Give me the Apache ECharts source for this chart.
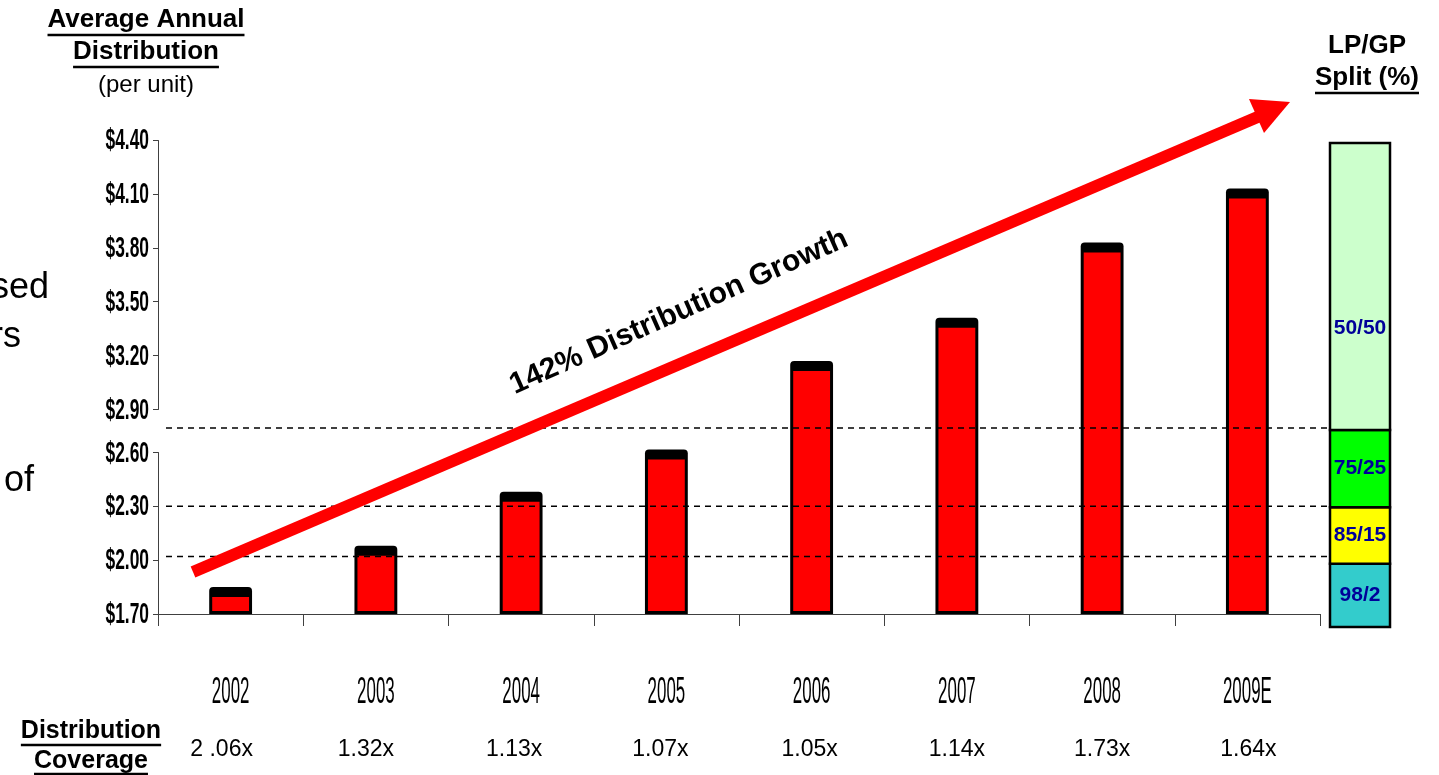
<!DOCTYPE html>
<html><head><meta charset="utf-8">
<script src="https://cdn.jsdelivr.net/npm/echarts@6/dist/echarts.min.js"></script>
<style>html,body{margin:0;padding:0;background:#fff;overflow:hidden}#c{width:1439px;height:775px}</style>
</head><body><div id="c"></div>
<script>
// ---- data ----
const years = ['2002', '2003', '2004', '2005', '2006', '2007', '2008', '2009E'];
const distribution = [1.85, 2.08, 2.38, 2.62, 3.17, 3.41, 3.83, 4.13];
const coverage = ['2 .06x', '1.32x', '1.13x', '1.07x', '1.05x', '1.14x', '1.73x', '1.64x'];
const yTicks = [1.70, 2.00, 2.30, 2.60, 2.90, 3.20, 3.50, 3.80, 4.10, 4.40];
const yBreak = [2.60, 2.90];
const thresholds = [2.02, 2.30, 2.77];
const splitLabels = ['98/2', '85/15', '75/25', '50/50'];
const splitBounds = [1.63, 1.99, 2.31, 2.75, 4.38];
const growthText = '142% Distribution Growth';

// ---- styles ----
const splitColors = ['#33CCCC', '#FFFF00', '#00FF00', '#CCFFCC'];
const coverageShift = [-9, -10, -7, -6, -2, 0, 0, 1];
const FF = '"Liberation Sans", Arial, Helvetica, sans-serif';
const AXIS = '#404040';

const chart = echarts.init(document.getElementById('c'), null, {renderer: 'canvas'});

function renderBar(params, api) {
  const cat = api.value(0), v = api.value(1);
  const top = api.coord([cat, v]);
  const base = api.coord([cat, yTicks[0]]);
  const w = api.size([1, 0])[0] * 0.295;
  const x0 = top[0] - w / 2, h = base[1] - top[1];
  return {type: 'group', children: [
    {type: 'rect', shape: {x: x0, y: top[1], width: w, height: h, r: [4, 4, 0, 0]}, style: {fill: '#000'}},
    {type: 'rect', shape: {x: x0 + 3, y: top[1] + 10, width: w - 6, height: h - 13}, style: {fill: '#FF0000'}}
  ]};
}
function renderDash(params, api) {
  const y = api.coord([0, api.value(1)])[1];
  const cs = params.coordSys;
  return {type: 'line', shape: {x1: cs.x + 8, y1: y, x2: cs.x + cs.width + 10, y2: y},
    style: {stroke: '#000', lineWidth: 1.5, lineDash: [6, 5]}};
}
function renderSplit(params, api) {
  const lo = api.coord([0, api.value(1)]);
  const hi = api.coord([0, api.value(2)]);
  const cs = params.coordSys;
  const i = params.dataIndex;
  const ty = lo[1] - Math.min((lo[1] - hi[1]) / 2, 102);
  return {type: 'group', children: [
    {type: 'rect', shape: {x: cs.x, y: hi[1], width: cs.width, height: lo[1] - hi[1]},
      style: {fill: splitColors[i], stroke: '#000', lineWidth: 2.5}},
    {type: 'text', x: cs.x + cs.width / 2, y: ty,
      style: {text: splitLabels[i], fill: '#000099', font: 'bold 21px ' + FF,
        align: 'center', verticalAlign: 'middle', textAlign: 'center', textVerticalAlign: 'middle'}}
  ]};
}

chart.setOption({
  animation: false,
  grid: [
    {left: 158, right: 119, top: 140, bottom: 161},
    {left: 1330, right: 49, top: 143, bottom: 148}
  ],
  xAxis: [
    {type: 'category', gridIndex: 0, data: years, boundaryGap: true,
      axisLine: {lineStyle: {color: AXIS, width: 1}},
      axisTick: {show: true, interval: 0, length: 12, lineStyle: {color: AXIS}},
      axisLabel: {show: false}, splitLine: {show: false}},
    {type: 'category', gridIndex: 1, data: ['LP/GP'], show: false}
  ],
  yAxis: [
    {type: 'value', gridIndex: 0, min: yTicks[0], max: yTicks[yTicks.length - 1], interval: 0.3,
      breaks: [{start: yBreak[0], end: yBreak[1], gap: 0.239}],
      breakArea: {show: false},
      axisLine: {show: true, lineStyle: {color: AXIS, width: 1}},
      axisTick: {show: true, length: 5, lineStyle: {color: AXIS}},
      axisLabel: {show: false}, splitLine: {show: false}},
    {type: 'value', gridIndex: 1, min: splitBounds[0], max: splitBounds[splitBounds.length - 1], show: false}
  ],
  series: [
    {type: 'custom', xAxisIndex: 0, yAxisIndex: 0, renderItem: renderBar, z: 3,
      data: distribution.map((v, i) => [i, v])},
    {type: 'custom', xAxisIndex: 0, yAxisIndex: 0, renderItem: renderDash, z: 4, clip: false,
      data: thresholds.map(v => [0, v])},
    {type: 'custom', xAxisIndex: 1, yAxisIndex: 1, renderItem: renderSplit, z: 3, clip: false,
      data: splitLabels.map((l, i) => [0, splitBounds[i], splitBounds[i + 1]])}
  ]
});

// ---- text & annotations ----
const ctx = document.createElement('canvas').getContext('2d');
function tw(text, font) { ctx.font = font; return ctx.measureText(text).width; }
const g = [];
function txt(text, x, y, font, opts) {
  opts = opts || {};
  const align = opts.align || 'center';
  g.push({type: 'text', x: x, y: y, scaleX: opts.scaleX || 1, rotation: opts.rotation || 0, z: 10,
    style: {text: text, font: font, fill: opts.fill || '#000', align: align, verticalAlign: 'middle',
      textAlign: align, textVerticalAlign: 'middle'}});
}
function uline(text, cx, y, font) {
  const w = tw(text, font);
  g.push({type: 'line', z: 10, shape: {x1: cx - w / 2, y1: y, x2: cx + w / 2, y2: y}, style: {stroke: '#000', lineWidth: 2.5}});
}

// y tick labels (condensed look)
yTicks.forEach(v => {
  const y = chart.convertToPixel({yAxisIndex: 0}, v);
  txt('$' + v.toFixed(2), 149, y + 1, 'bold 30px ' + FF, {align: 'right', scaleX: 0.58});
});
// year labels & coverage
years.forEach((yr, i) => {
  const x = chart.convertToPixel({xAxisIndex: 0}, yr);
  txt(yr, x, 693, '36px ' + FF, {scaleX: 0.47});
  txt(coverage[i], x + coverageShift[i], 750, '23px ' + FF);
});

// titles
const TB = 'bold 26px ' + FF;
txt('Average Annual', 146, 20, TB); uline('Average Annual', 146, 35, TB);
txt('Distribution', 146, 52, TB); uline('Distribution', 146, 67, TB);
txt('(per unit)', 146, 85, '24px ' + FF);
txt('LP/GP', 1367, 46, TB);
txt('Split (%)', 1367, 78, TB); uline('Split (%)', 1367, 93, TB);
const TB2 = 'bold 25px ' + FF;
txt('Distribution', 91, 731, TB2); uline('Distribution', 91, 745, TB2);
txt('Coverage', 91, 761, TB2); uline('Coverage', 91, 774, TB2);

// cropped slide text at left edge
const LF = '36px ' + FF;
txt('sed', 49, 288, LF, {align: 'right'});
txt('rs', 21, 337, LF, {align: 'right'});
txt('of', 34, 481, LF, {align: 'right'});

// growth arrow
g.push({type: 'line', z: 8, shape: {x1: 193, y1: 572, x2: 1260, y2: 116},
  style: {stroke: '#FF0000', lineWidth: 12}});
g.push({type: 'polygon', z: 8, shape: {points: [[1290, 102], [1249, 99], [1264, 133]]},
  style: {fill: '#FF0000'}});
txt(growthText, 679, 312, 'bold 30px ' + FF, {rotation: 24 * Math.PI / 180});

chart.setOption({graphic: g});
</script>
</body></html>
